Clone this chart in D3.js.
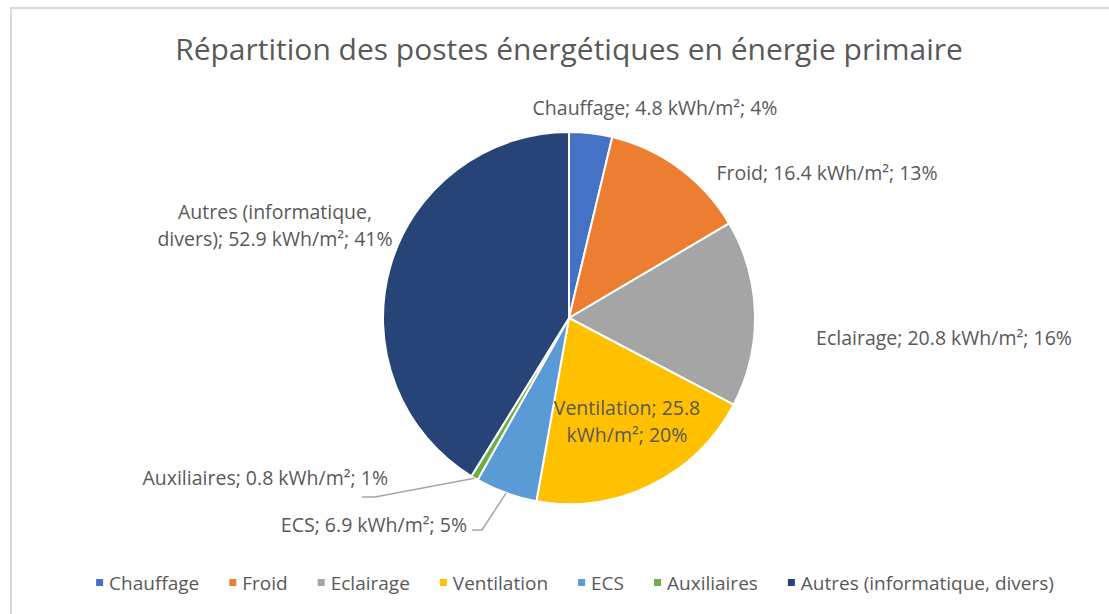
<!DOCTYPE html>
<html>
<head>
<meta charset="utf-8">
<script src="https://cdn.jsdelivr.net/npm/d3@7"></script>
<style>
  html, body { margin: 0; padding: 0; background: #fff; }
  svg { display: block; font-family: "Open Sans", sans-serif; }
</style>
</head>
<body>
<div id="chart"></div>
<script>
const categories = ["Chauffage", "Froid", "Eclairage", "Ventilation", "ECS", "Auxiliaires", "Autres (informatique, divers)"];
const values = [4.8, 16.4, 20.8, 25.8, 6.9, 0.8, 52.9];
const percents = [4, 13, 16, 20, 5, 1, 41];
const colors = ["#4472c4", "#ed7d31", "#a5a5a5", "#ffc000", "#5b9bd5", "#70ad47", "#264478"];

const W = 1109, H = 614;
const cx = 569, cy = 318, radius = 186;
const textColor = "#595959";

const svg = d3.select("#chart").append("svg")
  .attr("width", W)
  .attr("height", H);

// chart frame (only top and left edges visible)
svg.append("rect")
  .attr("x", 11).attr("y", 8)
  .attr("width", W + 20).attr("height", H + 20)
  .attr("fill", "none")
  .attr("stroke", "#d9d9d9")
  .attr("stroke-width", 2);

svg.append("text")
  .attr("x", 569)
  .attr("y", 60)
  .attr("text-anchor", "middle")
  .attr("font-size", "30px")
  .attr("fill", textColor)
  .text("Répartition des postes énergétiques en énergie primaire");

const data = categories.map((c, i) => ({ name: c, value: values[i], pct: percents[i], color: colors[i] }));

const pie = d3.pie().sort(null).value((d) => d.value);
const arcs = pie(data);
const arc = d3.arc().innerRadius(0).outerRadius(radius);

const g = svg.append("g").attr("transform", `translate(${cx}, ${cy})`);

g.selectAll("path")
  .data(arcs)
  .enter()
  .append("path")
  .attr("d", arc)
  .attr("fill", (d) => d.data.color)
  .attr("stroke", "#fff")
  .attr("stroke-width", 2);

const fmt = (d) => `${d.name}; ${d.value} kWh/m²; ${d.pct}%`;
const labelPos = {
  "Chauffage": { x: 655, y: 115, anchor: "middle", lines: null },
  "Froid": { x: 827, y: 180, anchor: "middle", lines: null },
  "Eclairage": { x: 944, y: 345, anchor: "middle", lines: null },
  "Ventilation": { x: 627, y: 415, anchor: "middle", lines: ["Ventilation; 25.8", "kWh/m²; 20%"] },
  "ECS": { x: 467, y: 532, anchor: "end", lines: null },
  "Auxiliaires": { x: 388, y: 485, anchor: "end", lines: null },
  "Autres (informatique, divers)": { x: 275, y: 219, anchor: "middle", lines: ["Autres (informatique,", "divers); 52.9 kWh/m²; 41%"] },
};

const labels = svg.append("g").attr("class", "labels");
arcs.forEach((a) => {
  const p = labelPos[a.data.name];
  const lines = p.lines || [fmt(a.data)];
  const t = labels.append("text")
    .attr("x", p.x)
    .attr("y", p.y)
    .attr("text-anchor", p.anchor)
    .attr("font-size", "19.5px")
    .attr("fill", textColor);
  lines.forEach((l, i) => {
    t.append("tspan").attr("x", p.x).attr("dy", i === 0 ? 0 : 27).text(l);
  });
});

// leader lines for the two small slices
function edgePoint(a) {
  const m = (a.startAngle + a.endAngle) / 2;
  return [cx + radius * Math.sin(m), cy - radius * Math.cos(m)];
}
const leaders = [
  { name: "Auxiliaires", elbow: [375, 497], end: [362, 497] },
  { name: "ECS", elbow: [482, 530], end: [472, 530] },
];
leaders.forEach((l) => {
  const a = arcs.find((d) => d.data.name === l.name);
  const p0 = edgePoint(a);
  svg.append("polyline")
    .attr("points", [p0, l.elbow, l.end].map((p) => p.join(",")).join(" "))
    .attr("fill", "none")
    .attr("stroke", "#a6a6a6")
    .attr("stroke-width", 1.5);
});

// legend
const legend = svg.append("g").attr("class", "legend");
const items = legend.selectAll("g")
  .data(data)
  .enter()
  .append("g");
items.append("rect")
  .attr("width", 7).attr("height", 7)
  .attr("y", -11)
  .attr("fill", (d) => d.color);
items.append("text")
  .attr("x", 13)
  .attr("font-size", "19px")
  .attr("fill", textColor)
  .text((d) => d.name);

const widths = [];
items.each(function () {
  widths.push(this.getBBox().width);
});
const gap = 30;
const total = d3.sum(widths) + gap * (widths.length - 1);
let xPos = 575 - total / 2;
items.attr("transform", (d, i) => {
  const x = xPos;
  xPos += widths[i] + gap;
  return `translate(${x}, 590)`;
});
</script>
</body>
</html>
